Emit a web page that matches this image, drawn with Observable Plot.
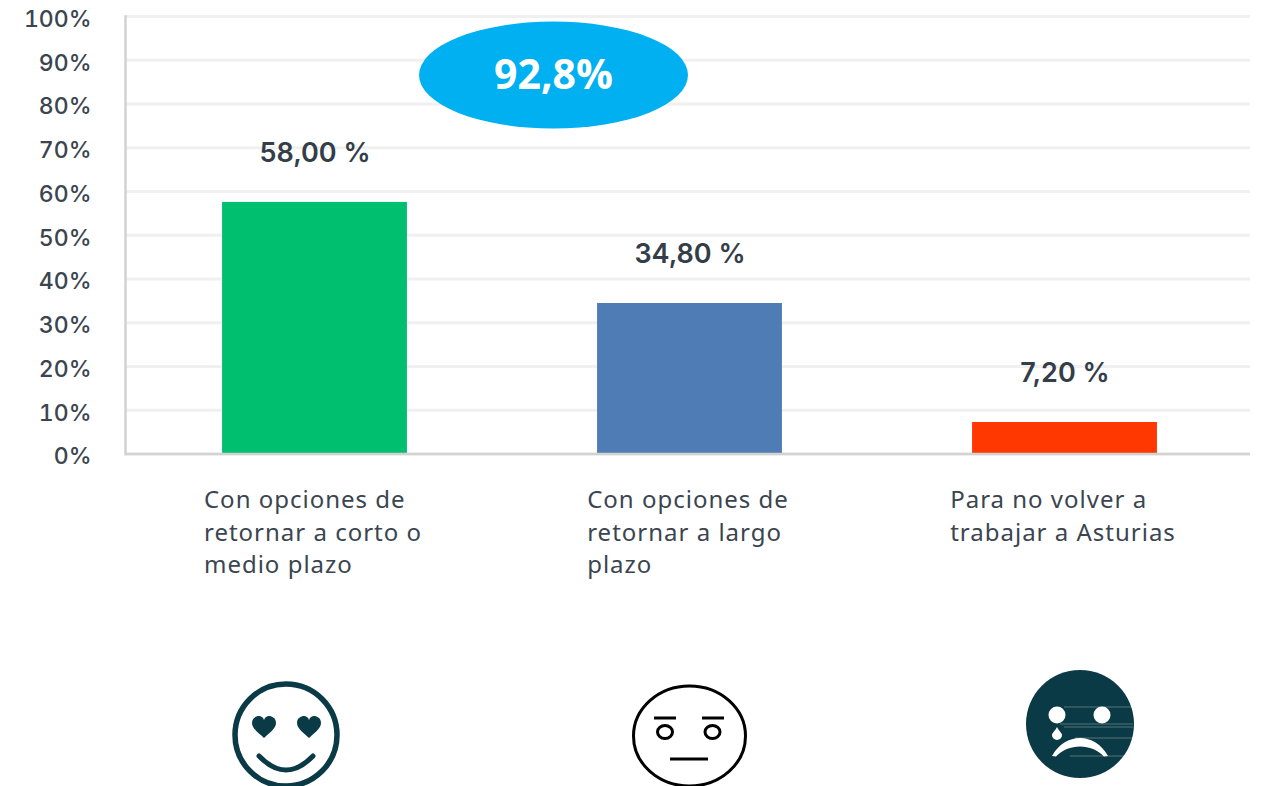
<!DOCTYPE html>
<html><head><meta charset="utf-8">
<script src="https://cdn.jsdelivr.net/npm/d3@7"></script>
<script src="https://cdn.jsdelivr.net/npm/@observablehq/plot@0.6"></script>
<style>html,body{margin:0;padding:0;background:#fff;overflow:hidden}svg{display:block}.cat text{letter-spacing:1px}</style>
</head><body><div id="chart"></div>
<script>
const categories = ["Con opciones de\nretornar a corto o\nmedio plazo","Con opciones de\nretornar a largo\nplazo","Para no volver a\ntrabajar a Asturias"];
const barValues = [57.5, 34.4, 7.2];
const valueLabels = ["58,00 %","34,80 %","7,20 %"];
const barColors = ["#00BF6F","#507CB6","#FF3700"];
const yTicks = [0,10,20,30,40,50,60,70,80,90,100];
const totalLabel = "92,8%";
const table = categories.map((c,i)=>({c,v:barValues[i],l:valueLabels[i],col:barColors[i]}));

const FONT_AXIS = "Inter, 'Noto Sans', sans-serif";
const FONT_CAT = "'Noto Sans', sans-serif";
const catSize = 24;
const catSpacing = 1;
const ctx = document.createElement("canvas").getContext("2d");
ctx.font = `${catSize}px ${FONT_CAT}`;
const blockWidth = s => Math.max(...s.split("\n").map(t=>ctx.measureText(t).width + t.length*catSpacing));

const NS = "http://www.w3.org/2000/svg";
const TEAL = "#0A3A45";
const HEART = "M0 11C-4 7-12 2-12-4C-12-9-8-11-5-11C-3-11-1-10 0-7C1-10 3-11 5-11C8-11 12-9 12-4C12 2 4 7 0 11Z";
const faces = [
  `<g transform="translate(-28.5,0)"><circle cy="735" r="51" fill="none" stroke="${TEAL}" stroke-width="5.5"/>
   <path transform="translate(-22,727)" d="${HEART}" fill="${TEAL}"/><path transform="translate(23,727)" d="${HEART}" fill="${TEAL}"/>
   <path d="M-27 756Q0 784 27 756" fill="none" stroke="${TEAL}" stroke-width="5" stroke-linecap="round"/></g>`,
  `<g fill="none" stroke="#000" stroke-width="3"><ellipse cy="736" rx="56" ry="50"/>
   <path d="M-35.5 718H-13.5M12.5 718H34.5M-19.5 759H18.5"/><ellipse cx="-24.5" cy="732" rx="7.5" ry="6.5"/><ellipse cx="23" cy="732" rx="7.5" ry="6.5"/></g>`,
  `<g transform="translate(15.5,0)"><circle cy="724" r="54" fill="${TEAL}"/>
   <circle cx="-23" cy="715" r="8.5" fill="#fff"/><circle cx="22" cy="715" r="8.5" fill="#fff"/>
   <path d="M-23 727C-21 731-18 733-18 735A5 5 0 0 1-28 735C-28 733-25 731-23 727Z" fill="#fff"/>
   <path d="M-28 756C-15 732 15 732 28 756L24 756.500C12 743-12 743-24 756.500Z" fill="#fff"/>
   <path d="M-16 707H53M-20 724H53M-16 727H53M-5 738H53M-10 756H53" stroke="#fff" stroke-opacity=".3" stroke-width="1"/></g>`
];

const overlay = (index, {x, y}) => {
  const g = document.createElementNS(NS,"g");
  const step = x.bandwidth() / 2;
  g.innerHTML = faces.map((f,i)=>`<g transform="translate(${x(categories[i])+step},0)">${f}</g>`).join("") +
    `<ellipse cx="553.500" cy="${y(86.5)}" rx="134.500" ry="53.500" fill="#00B0F0"/>
     <text x="553.500" y="${y(86.5)}" dy="0.35em" text-anchor="middle" fill="#fff" font-weight="700" font-size="41" font-family="'Open Sans',sans-serif">${totalLabel}</text>`;
  return g;
};

const plot = Plot.plot({
  width:1263, height:786,
  marginLeft:125, marginRight:13, marginTop:16, marginBottom:332.5,
  style:{background:"#fff",color:"#3a4550"},
  x:{domain:categories, range:[127,1252], paddingInner:0.507, paddingOuter:0.2535, round:false, axis:null},
  y:{domain:[0,100], axis:null},
  marks:[
    Plot.ruleY(yTicks,{stroke:"#f0f0f0",strokeWidth:3}),
    Plot.barY(table,{x:"c",y:"v",fill:"col"}),
    Plot.ruleY([0],{stroke:"#d2d2d2",strokeWidth:2.5}),
    Plot.frame({anchor:"left",stroke:"#d2d2d2",strokeWidth:2.5}),
    Plot.axisY({ticks:yTicks,tickSize:0,tickPadding:34,dy:3,tickFormat:d=>d+"%",label:null,fontSize:23,fontWeight:500,fontFamily:FONT_AXIS,fill:"#3a4550"}),
    Plot.text(table,{x:"c",y:"v",text:"l",dy:-49.5,fontSize:27,fontWeight:600,fontFamily:FONT_AXIS,fill:"#333e48"}),
    ...categories.map(c=>Plot.text([c],{x:d=>d,y:()=>0,text:d=>d,textAnchor:"start",lineAnchor:"top",className:"cat",
      dx:-blockWidth(c)/2-2,dy:31,fontSize:catSize,lineHeight:32.5/catSize,fontFamily:FONT_CAT,fill:"#3a4550"})),
    overlay
  ]
});
document.getElementById("chart").append(plot);
</script>
</body></html>
